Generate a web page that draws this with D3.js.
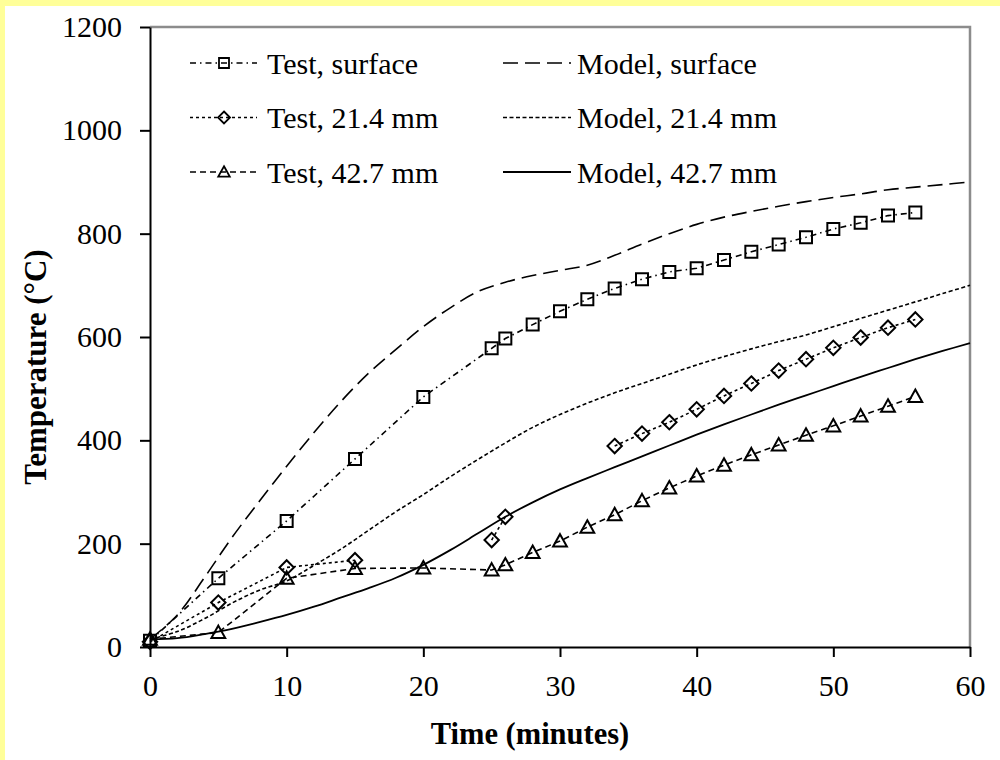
<!DOCTYPE html>
<html>
<head>
<meta charset="utf-8">
<script src="https://cdn.jsdelivr.net/npm/d3@7"></script>
<style>
    body { margin: 0; background: #ffff99; }
    svg { display: block; }
    text { font-family: "Liberation Serif", "Times New Roman", serif; fill: #000; }
</style>
</head>
<body>
<script>

//DATA

//test readings (null = no line drawn there)
var testTime = [0, 5, 10, 15, 20, 25, 26, 28, 30, 32, 34, 36, 38, 40, 42, 44, 46, 48, 50, 52, 54, 56];
var testSurface = [12, 133, 244, 364, 484, 578, 597, 624, 650, 673, 694, 712, 726, 733, 749, 765, 779, 793, 809, 821, 835, 841];
var test214 = [10, 86, 154, 168, null, 207, 252, null, null, null, 389, 413, 435, 460, 486, 510, 535, 557, 579, 599, 618, 634];
var test427 = [15, 28, 133, 152, 153, 149, 159, 183, 205, 232, 256, 283, 308, 331, 352, 372, 391, 410, 428, 447, 466, 485];

//model curves
var modelTime = [0, 2, 4, 6, 8, 10, 12, 14, 16, 18, 20, 22, 24, 26, 28, 30, 32, 34, 36, 38, 40, 42, 44, 46, 48, 50, 52, 54, 56, 58, 60];
var modelSurface = [15, 62, 135, 212, 282, 350, 415, 476, 530, 576, 620, 657, 688, 706, 719, 729, 739, 758, 780, 800, 818, 832, 843, 853, 862, 870, 877, 885, 890, 895, 900];
var model214 = [15, 30, 55, 85, 110, 128, 158, 190, 226, 262, 295, 330, 363, 395, 425, 450, 472, 492, 510, 528, 546, 562, 577, 591, 604, 620, 636, 652, 668, 684, 700];
var model427 = [15, 17, 25, 35, 48, 62, 78, 96, 114, 134, 159, 188, 220, 252, 280, 305, 327, 348, 369, 390, 411, 431, 450, 469, 487, 505, 523, 540, 557, 573, 588];

//axis ticks
var xTicks = [0, 10, 20, 30, 40, 50, 60];
var yTicks = [0, 200, 400, 600, 800, 1000, 1200];

//legend
var legendLabels = ["Test, surface", "Test, 21.4 mm", "Test, 42.7 mm", "Model, surface", "Model, 21.4 mm", "Model, 42.7 mm"];


//Set height and width
var w = 1000;
var h = 760;

var margin = {
        top: 27,
        bottom: 113,
        right: 30,
        left: 150
    };

var height = h - margin.top - margin.bottom;
var width = w - margin.left - margin.right;

//Set up scales
var x = d3.scaleLinear()
    .domain([0, 60])
    .range([0, width]);

var y = d3.scaleLinear()
    .domain([0, 1200])
    .range([height, 0]);

//Set up the axes
var xAxis = d3.axisBottom(x).tickValues(xTicks).tickSize(10).tickSizeOuter(0).tickPadding(18).tickFormat(d3.format("d"));
var yAxis = d3.axisLeft(y).tickValues(yTicks).tickSize(10).tickSizeOuter(0).tickPadding(18).tickFormat(d3.format("d"));

//line styles for each series
var series = [
    { name: legendLabels[0], t: testTime, v: testSurface, dash: "6,4,1.5,4", width: 1.6, marker: "square", curve: d3.curveLinear },
    { name: legendLabels[1], t: testTime, v: test214, dash: "3,3", width: 1.6, marker: "diamond", curve: d3.curveLinear },
    { name: legendLabels[2], t: testTime, v: test427, dash: "6,4", width: 1.6, marker: "triangle", curve: d3.curveLinear },
    { name: legendLabels[3], t: modelTime, v: modelSurface, dash: "15,7", width: 1.6, marker: null, curve: d3.curveCatmullRom },
    { name: legendLabels[4], t: modelTime, v: model214, dash: "4,2.5", width: 1.6, marker: null, curve: d3.curveCatmullRom },
    { name: legendLabels[5], t: modelTime, v: model427, dash: null, width: 1.8, marker: null, curve: d3.curveCatmullRom }
];

//marker shapes, s = half size
function markerPath(type, s) {
    if (type === "square") {
        return "M" + (-s) + "," + (-s) + "H" + s + "V" + s + "H" + (-s) + "Z";
    }
    if (type === "diamond") {
        var r = s * 1.2;
        return "M0," + (-r) + "L" + r + ",0L0," + r + "L" + (-r) + ",0Z";
    }
    var t = s * 1.15;
    return "M0," + (-t) + "L" + t + "," + (t * 0.8) + "L" + (-t) + "," + (t * 0.8) + "Z";
}


///CHART CREATION STARTS BELOW

var svg = d3.select("body").append("svg")
    .attr("width", w)
    .attr("height", h);

//white page with the yellow strip on top and left
svg.append("rect")
    .attr("x", 5)
    .attr("y", 6)
    .attr("width", w - 5)
    .attr("height", h - 6)
    .style("fill", "#ffffff");

var chart = svg.append("g")
    .attr("transform", "translate(" + margin.left + "," + margin.top + ")");

//grey frame on top and right
chart.append("path")
    .attr("d", "M0,0H" + width + "V" + height)
    .style("fill", "none")
    .style("stroke", "#8c8c8c")
    .style("stroke-width", 2.5);

//Draw the lines
series.forEach(function(s) {
    var pts = s.t.map(function(d, i) {
        return { t: d, v: s.v[i] };
    });

    var line = d3.line()
        .defined(function(d) { return d.v != null; })
        .x(function(d) { return x(d.t); })
        .y(function(d) { return y(d.v); })
        .curve(s.curve);

    chart.append("path")
        .datum(pts)
        .attr("d", line)
        .style("fill", "none")
        .style("stroke", "#000")
        .style("stroke-width", s.width)
        .style("stroke-dasharray", s.dash);

    if (s.marker) {
        chart.selectAll(".m-" + s.marker)
            .data(pts.filter(function(d) { return d.v != null; }))
            .enter()
                .append("path")
                .classed("m-" + s.marker, true)
                .attr("transform", function(d) {
                    return "translate(" + x(d.t) + "," + y(d.v) + ")";
                })
                .attr("d", markerPath(s.marker, 6))
                .style("fill", "none")
                .style("stroke", "#000")
                .style("stroke-width", 2);
    }
});

//Add x axis
chart.append("g")
    .classed("xAxis", true)
    .attr("transform", "translate(0," + height + ")")
    .call(xAxis);

//Add y axis
chart.append("g")
    .classed("yAxis", true)
    .call(yAxis);

chart.selectAll(".xAxis path, .yAxis path, .xAxis line, .yAxis line")
    .style("stroke", "#000")
    .style("stroke-width", 2);

chart.selectAll(".xAxis text, .yAxis text")
    .style("font-size", "30px")
    .style("font-family", "'Liberation Serif', serif")
    .style("fill", "#000");

//Axis labels
svg.append("text")
    .attr("x", 0)
    .attr("y", 0)
    .style("font-size", "31px")
    .style("font-weight", "bold")
    .style("text-anchor", "middle")
    .attr("transform", "translate(46,367) rotate(-90)")
    .text("Temperature (\u00b0C)");

svg.append("text")
    .attr("x", 530)
    .attr("y", 744)
    .style("font-size", "30.5px")
    .style("font-weight", "bold")
    .style("text-anchor", "middle")
    .text("Time (minutes)");

//Legend
var legend = svg.append("g").classed("legend", true);

series.forEach(function(s, i) {
    var col = Math.floor(i / 3);
    var row = i % 3;
    var lx = col === 0 ? 190 : 503;
    var ly = 63 + row * 54.5;

    legend.append("line")
        .attr("x1", lx)
        .attr("x2", lx + (col === 0 ? 67 : 68))
        .attr("y1", ly)
        .attr("y2", ly)
        .style("stroke", "#000")
        .style("stroke-width", s.width)
        .style("stroke-dasharray", s.dash);

    if (s.marker) {
        legend.append("path")
            .attr("transform", "translate(" + (lx + 34) + "," + ly + ")")
            .attr("d", markerPath(s.marker, 5))
            .style("fill", "none")
            .style("stroke", "#000")
            .style("stroke-width", 1.8);
    }

    legend.append("text")
        .attr("x", col === 0 ? 267 : 577)
        .attr("y", ly)
        .attr("dy", "0.35em")
        .style("font-size", "30px")
        .text(s.name);
});

</script>
</body>
</html>
